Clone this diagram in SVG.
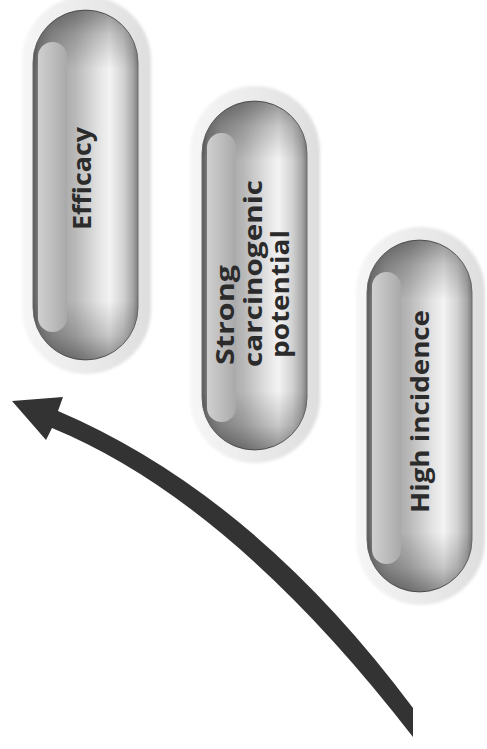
<svg xmlns="http://www.w3.org/2000/svg" width="487" height="749" viewBox="0 0 487 749">
<defs>
<style>
.halo{fill:url(#haloG);filter:url(#soft)}
.body{fill:url(#bodyG);stroke:#6e6e6e;stroke-width:1}
.caps{fill:url(#capG)}
.hl{fill:url(#hlG)}
.lbl{font-family:"Open Sans","Noto Sans","Liberation Sans",sans-serif;font-weight:700;font-size:25px;fill:#2b2b2b}
.arrow{fill:#333333}
</style>
<filter id="soft" x="-10%" y="-10%" width="120%" height="120%"><feGaussianBlur stdDeviation="1.5"/></filter>
<linearGradient id="haloG" x1="0" y1="0" x2="1" y2="0">
<stop offset="0" stop-color="#f6f6f6"/>
<stop offset="0.5" stop-color="#eaeaea"/>
<stop offset="1" stop-color="#dedede"/>
</linearGradient>
<linearGradient id="bodyG" x1="0" y1="0" x2="1" y2="0">
<stop offset="0" stop-color="#585858"/>
<stop offset="0.05" stop-color="#7c7c7c"/>
<stop offset="0.18" stop-color="#9c9c9c"/>
<stop offset="0.4" stop-color="#b8b8b8"/>
<stop offset="0.62" stop-color="#e2e2e2"/>
<stop offset="0.73" stop-color="#f3f3f3"/>
<stop offset="0.86" stop-color="#d2d2d2"/>
<stop offset="0.95" stop-color="#a8a8a8"/>
<stop offset="1" stop-color="#7c7c7c"/>
</linearGradient>
<linearGradient id="capG" x1="0" y1="0" x2="0" y2="1">
<stop offset="0" stop-color="#000" stop-opacity="0.4"/>
<stop offset="0.07" stop-color="#000" stop-opacity="0.18"/>
<stop offset="0.17" stop-color="#000" stop-opacity="0"/>
<stop offset="0.83" stop-color="#000" stop-opacity="0"/>
<stop offset="0.93" stop-color="#000" stop-opacity="0.18"/>
<stop offset="1" stop-color="#000" stop-opacity="0.42"/>
</linearGradient>
<linearGradient id="hlG" x1="0" y1="0" x2="1" y2="0">
<stop offset="0" stop-color="#d0d0d0"/>
<stop offset="0.5" stop-color="#bdbdbd"/>
<stop offset="1" stop-color="#a9a9a9"/>
</linearGradient>
</defs>
<rect width="487" height="749" fill="#ffffff"/>

<g id="pill-efficacy">
<rect class="halo" x="22" y="-4" width="129" height="378" rx="64.5"/>
<rect class="body" x="33" y="10" width="105" height="350" rx="52.5"/>
<rect class="caps" x="33" y="10" width="105" height="350" rx="52.5"/>
<rect class="hl" x="38" y="42" width="29" height="290" rx="14.5"/>
<text class="lbl" transform="translate(91,230) rotate(-90)" textLength="103" lengthAdjust="spacingAndGlyphs">Efficacy</text>
</g>

<g id="pill-carcinogenic">
<rect class="halo" x="190" y="86" width="130" height="377" rx="65"/>
<rect class="body" x="202" y="101" width="105" height="349" rx="52.5"/>
<rect class="caps" x="202" y="101" width="105" height="349" rx="52.5"/>
<rect class="hl" x="207" y="133" width="29" height="289" rx="14.5"/>
<text class="lbl" transform="translate(234,365) rotate(-90)" textLength="100" lengthAdjust="spacingAndGlyphs">Strong</text>
<text class="lbl" transform="translate(261.5,367) rotate(-90)" textLength="187" lengthAdjust="spacingAndGlyphs">carcinogenic</text>
<text class="lbl" transform="translate(289,358) rotate(-90)" textLength="128" lengthAdjust="spacingAndGlyphs">potential</text>
</g>

<g id="pill-incidence">
<rect class="halo" x="356" y="227" width="129" height="378" rx="64.5"/>
<rect class="body" x="367" y="240" width="105" height="352" rx="52.5"/>
<rect class="caps" x="367" y="240" width="105" height="352" rx="52.5"/>
<rect class="hl" x="372" y="272" width="29" height="292" rx="14.5"/>
<text class="lbl" transform="translate(429,513) rotate(-90)" textLength="203" lengthAdjust="spacingAndGlyphs">High incidence</text>
</g>

<g id="connectors">
<path class="arrow" d="M12,401 L63,397 L58,411 Q254.5,495 413,708 L413,737 Q231.7,502.1 52,428 L46,440 Z"/>
</g>
</svg>
